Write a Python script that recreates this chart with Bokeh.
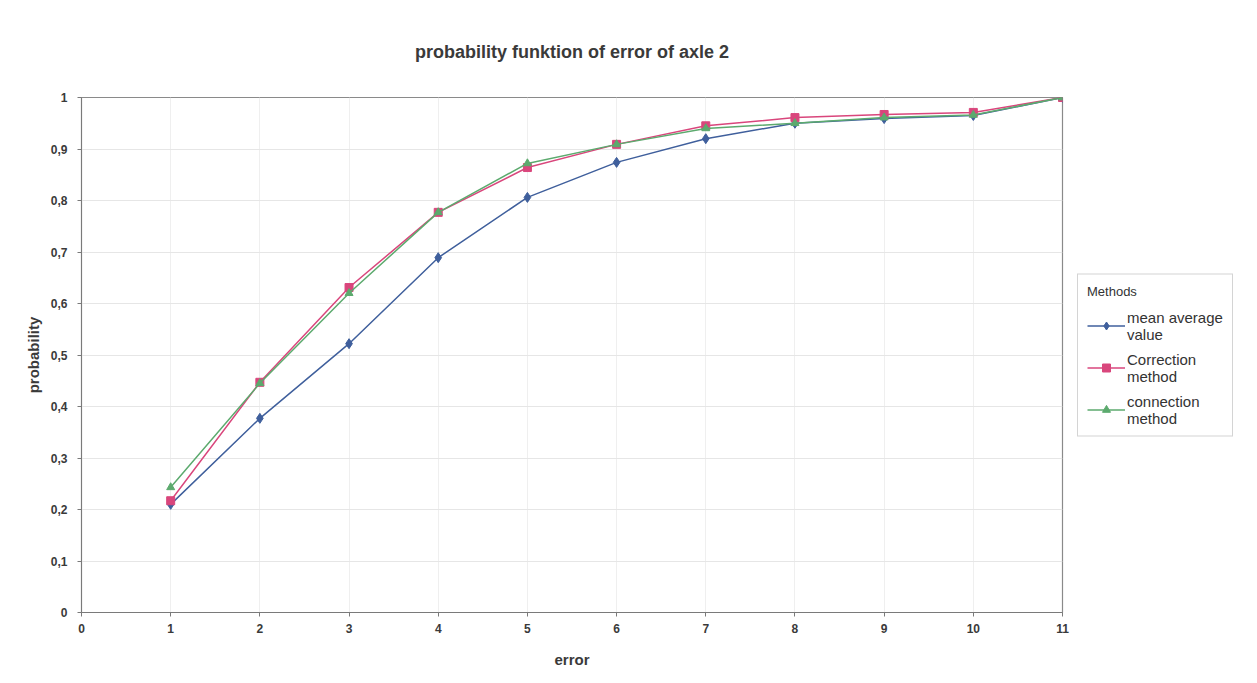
from bokeh.plotting import figure
from bokeh.models import Legend, LegendItem, Range1d, FixedTicker, CustomJSTickFormatter
from bokeh.embed import file_html
from bokeh.resources import INLINE

errors = [1, 2, 3, 4, 5, 6, 7, 8, 9, 10, 11]
mean_average = [0.21, 0.377, 0.522, 0.689, 0.806, 0.874, 0.920, 0.950, 0.959, 0.965, 1.0]
correction = [0.217, 0.447, 0.631, 0.777, 0.864, 0.909, 0.945, 0.961, 0.967, 0.971, 1.0]
connection = [0.243, 0.445, 0.620, 0.777, 0.872, 0.909, 0.940, 0.950, 0.961, 0.966, 1.0]
x_ticks = [0, 1, 2, 3, 4, 5, 6, 7, 8, 9, 10, 11]
y_ticks = [0, 0.1, 0.2, 0.3, 0.4, 0.5, 0.6, 0.7, 0.8, 0.9, 1.0]

FONT = "Liberation Sans"

p = figure(frame_width=981, frame_height=515, output_backend="svg", toolbar_location=None,
           x_range=Range1d(0, 11), y_range=Range1d(0, 1),
           min_border_left=81, min_border_right=0, min_border_top=97, min_border_bottom=55)
p.title.text = "probability funktion of error of axle 2"
p.title.align = "center"
p.title.text_font = FONT
p.title.text_font_style = "bold"
p.title.text_font_size = "18px"
p.title.text_color = "#3a3a3a"
p.title.standoff = 71
p.outline_line_color = "#8a8a8a"
p.outline_line_width = 1.2
p.border_fill_color = "white"
p.background_fill_color = "white"

for ax in (p.xaxis[0], p.yaxis[0]):
    ax.axis_line_color = "#7a7a7a"
    ax.major_tick_line_color = "#7a7a7a"
    ax.minor_tick_line_color = None
    ax.major_tick_in = 0
    ax.major_tick_out = 4
    ax.major_label_text_font = FONT
    ax.major_label_text_font_style = "bold"
    ax.major_label_text_font_size = "12px"
    ax.major_label_text_color = "#3a3a3a"
    ax.axis_label_text_font = FONT
    ax.axis_label_text_font_style = "bold"
    ax.axis_label_text_font_size = "15px"
    ax.axis_label_text_color = "#3a3a3a"

p.xaxis.ticker = FixedTicker(ticks=x_ticks)
p.yaxis.ticker = FixedTicker(ticks=y_ticks)
p.yaxis.formatter = CustomJSTickFormatter(code="return (Math.round(tick*10)/10).toString().replace('.', ',');")
p.xaxis.axis_label = "error"
p.yaxis.axis_label = "probability"
p.xaxis.major_label_standoff = 7
p.yaxis.major_label_standoff = 10
p.xaxis.axis_label_standoff = 15
p.yaxis.axis_label_standoff = 6

p.xgrid.ticker = FixedTicker(ticks=x_ticks)
p.ygrid.ticker = FixedTicker(ticks=y_ticks)
p.xgrid.grid_line_color = "#efefef"
p.ygrid.grid_line_color = "#e6e6e6"

blue = "#3f5f9c"
pink = "#d9467c"
green = "#5caa6e"

r1 = p.line(errors, mean_average, line_color=blue, line_width=1.5)
m1 = p.scatter(errors, mean_average, marker="diamond", size=10, fill_color=blue, line_color=blue)
r2 = p.line(errors, correction, line_color=pink, line_width=1.5)
m2 = p.scatter(errors, correction, marker="square", size=8, fill_color=pink, line_color=pink)
r3 = p.line(errors, connection, line_color=green, line_width=1.5)
m3 = p.scatter(errors, connection, marker="triangle", size=8, fill_color=green, line_color=green)

legend = Legend(items=[
    LegendItem(label="mean average\nvalue", renderers=[r1, m1]),
    LegendItem(label="Correction\nmethod", renderers=[r2, m2]),
    LegendItem(label="connection\nmethod", renderers=[r3, m3]),
], location="center_left", title="Methods")
legend.title_text_font = FONT
legend.title_text_font_size = "13px"
legend.title_text_font_style = "normal"
legend.title_text_color = "#333333"
legend.title_standoff = 10
legend.label_text_font = FONT
legend.label_text_font_size = "15px"
legend.label_text_color = "#333333"
legend.label_text_line_height = 1.0
legend.border_line_color = "#aaaaaa"
legend.glyph_width = 38
legend.label_standoff = 2
legend.spacing = 8
legend.padding = 9
legend.margin = 15
legend.background_fill_alpha = 1.0
p.add_layout(legend, "right")

open("out.html", "w").write(file_html(p, INLINE))
